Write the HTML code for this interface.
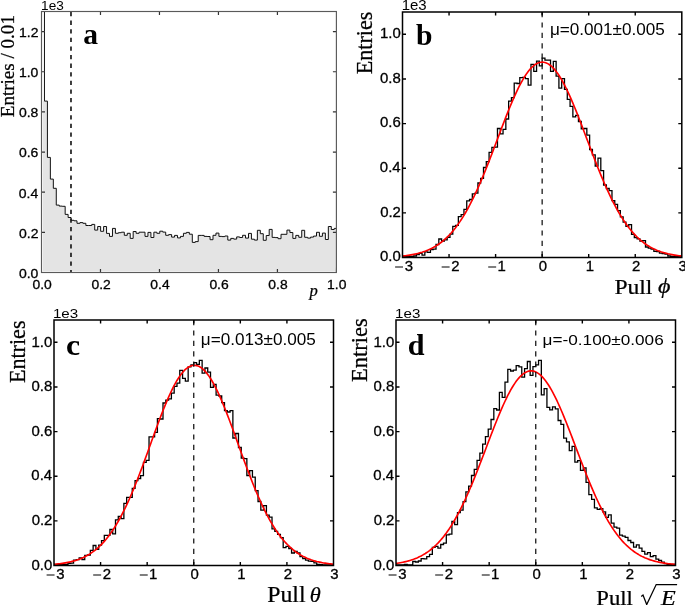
<!DOCTYPE html><html><head><meta charset="utf-8"><style>html,body{margin:0;padding:0;background:#fff;}svg{display:block;will-change:transform;}</style></head><body>
<svg width="685" height="605" viewBox="0 0 685 605">
<rect width="685" height="605" fill="#fff"/>
<clipPath id="cpa"><rect x="41.5" y="11.5" width="294.9" height="261"/></clipPath>
<clipPath id="cpb"><rect x="402.5" y="12" width="279.3" height="245.5"/></clipPath>
<clipPath id="cpc"><rect x="54" y="320" width="279.5" height="245.5"/></clipPath>
<clipPath id="cpd"><rect x="396" y="320" width="279.5" height="245.5"/></clipPath>
<g clip-path="url(#cpa)">
<path d="M42.9,271.2 L42.9,101.1 L44.46,101.1 L44.46,101.1 L47.41,101.1 L47.41,157.4 L50.37,157.4 L50.37,179.1 L53.33,179.1 L53.33,188.3 L56.29,188.3 L56.28,205.1 L59.24,205.1 L59.24,206.1 L62.2,206.1 L62.2,206.3 L65.16,206.3 L65.16,214.4 L68.11,214.4 L68.11,217.5 L71.07,217.5 L71.07,220.3 L74.03,220.3 L74.03,220.8 L76.98,220.8 L76.98,223.3 L79.94,223.3 L79.94,222.6 L82.9,222.6 L82.9,223.3 L85.85,223.3 L85.85,225.5 L88.81,225.5 L88.81,225.5 L91.77,225.5 L91.77,224.4 L94.73,224.4 L94.73,230.1 L97.68,230.1 L97.68,226.5 L100.64,226.5 L100.64,231.3 L103.6,231.3 L103.6,226.5 L106.55,226.5 L106.55,233.4 L109.51,233.4 L109.51,236.4 L112.47,236.4 L112.47,228.4 L115.42,228.4 L115.42,233.3 L118.38,233.3 L118.38,232.7 L121.34,232.7 L121.34,232.2 L124.3,232.2 L124.3,235.3 L127.25,235.3 L127.25,233.3 L130.21,233.3 L130.21,238.4 L133.17,238.4 L133.17,231.5 L136.12,231.5 L136.12,233.3 L139.08,233.3 L139.08,232.2 L142.04,232.2 L142.04,232.2 L145,232.2 L145,236.4 L147.95,236.4 L147.95,232.4 L150.91,232.4 L150.91,237.5 L153.87,237.5 L153.87,232.2 L156.82,232.2 L156.82,233.3 L159.78,233.3 L159.78,231.2 L162.74,231.2 L162.74,232.1 L165.69,232.1 L165.69,235.3 L168.65,235.3 L168.65,234.6 L171.61,234.6 L171.61,237.1 L174.56,237.1 L174.56,235.4 L177.52,235.4 L177.52,237.9 L180.48,237.9 L180.48,236.4 L183.44,236.4 L183.44,233.3 L186.39,233.3 L186.39,232.4 L189.35,232.4 L189.35,234.2 L192.31,234.2 L192.31,242.4 L195.26,242.4 L195.26,241.6 L198.22,241.6 L198.22,235.4 L201.18,235.4 L201.18,235.4 L204.13,235.4 L204.13,236.4 L207.09,236.4 L207.09,236.5 L210.05,236.5 L210.05,239.7 L213.01,239.7 L213.01,235.3 L215.96,235.3 L215.96,233.1 L218.92,233.1 L218.92,236.4 L221.88,236.4 L221.88,236.6 L224.83,236.6 L224.83,236 L227.79,236 L227.79,240.1 L230.75,240.1 L230.75,238.4 L233.7,238.4 L233.7,239.1 L236.66,239.1 L236.66,236.9 L239.62,236.9 L239.62,237.5 L242.58,237.5 L242.58,235.3 L245.53,235.3 L245.53,238.1 L248.49,238.1 L248.49,233.4 L251.45,233.4 L251.45,239.2 L254.4,239.2 L254.4,240.1 L257.36,240.1 L257.36,230.3 L260.32,230.3 L260.32,233.7 L263.27,233.7 L263.27,240.3 L266.23,240.3 L266.23,235.5 L269.19,235.5 L269.19,229.4 L272.15,229.4 L272.15,237.4 L275.1,237.4 L275.1,237.6 L278.06,237.6 L278.06,238.7 L281.02,238.7 L281.02,234.3 L283.97,234.3 L283.97,234.3 L286.93,234.3 L286.93,230.1 L289.89,230.1 L289.89,232.5 L292.84,232.5 L292.85,238.4 L295.8,238.4 L295.8,235.4 L298.76,235.4 L298.76,237.3 L301.72,237.3 L301.72,230.3 L304.67,230.3 L304.67,237.3 L307.63,237.3 L307.63,238.1 L310.59,238.1 L310.59,237.1 L313.54,237.1 L313.54,236.1 L316.5,236.1 L316.5,232.3 L319.46,232.3 L319.46,236.3 L322.41,236.3 L322.41,233.1 L325.37,233.1 L325.37,239.5 L328.33,239.5 L328.33,226.5 L331.29,226.5 L331.29,229.5 L334.24,229.5 L334.24,228.4 L337.2,228.4 L335.9,228.4 L335.9,271.2 Z" fill="#e4e4e4" stroke="none"/>
<path d="M41.5,272.5 L41.5,-60 L44.46,-60 L44.46,101.1 L47.41,101.1 L47.41,157.4 L50.37,157.4 L50.37,179.1 L53.33,179.1 L53.33,188.3 L56.29,188.3 L56.28,205.1 L59.24,205.1 L59.24,206.1 L62.2,206.1 L62.2,206.3 L65.16,206.3 L65.16,214.4 L68.11,214.4 L68.11,217.5 L71.07,217.5 L71.07,220.3 L74.03,220.3 L74.03,220.8 L76.98,220.8 L76.98,223.3 L79.94,223.3 L79.94,222.6 L82.9,222.6 L82.9,223.3 L85.85,223.3 L85.85,225.5 L88.81,225.5 L88.81,225.5 L91.77,225.5 L91.77,224.4 L94.73,224.4 L94.73,230.1 L97.68,230.1 L97.68,226.5 L100.64,226.5 L100.64,231.3 L103.6,231.3 L103.6,226.5 L106.55,226.5 L106.55,233.4 L109.51,233.4 L109.51,236.4 L112.47,236.4 L112.47,228.4 L115.42,228.4 L115.42,233.3 L118.38,233.3 L118.38,232.7 L121.34,232.7 L121.34,232.2 L124.3,232.2 L124.3,235.3 L127.25,235.3 L127.25,233.3 L130.21,233.3 L130.21,238.4 L133.17,238.4 L133.17,231.5 L136.12,231.5 L136.12,233.3 L139.08,233.3 L139.08,232.2 L142.04,232.2 L142.04,232.2 L145,232.2 L145,236.4 L147.95,236.4 L147.95,232.4 L150.91,232.4 L150.91,237.5 L153.87,237.5 L153.87,232.2 L156.82,232.2 L156.82,233.3 L159.78,233.3 L159.78,231.2 L162.74,231.2 L162.74,232.1 L165.69,232.1 L165.69,235.3 L168.65,235.3 L168.65,234.6 L171.61,234.6 L171.61,237.1 L174.56,237.1 L174.56,235.4 L177.52,235.4 L177.52,237.9 L180.48,237.9 L180.48,236.4 L183.44,236.4 L183.44,233.3 L186.39,233.3 L186.39,232.4 L189.35,232.4 L189.35,234.2 L192.31,234.2 L192.31,242.4 L195.26,242.4 L195.26,241.6 L198.22,241.6 L198.22,235.4 L201.18,235.4 L201.18,235.4 L204.13,235.4 L204.13,236.4 L207.09,236.4 L207.09,236.5 L210.05,236.5 L210.05,239.7 L213.01,239.7 L213.01,235.3 L215.96,235.3 L215.96,233.1 L218.92,233.1 L218.92,236.4 L221.88,236.4 L221.88,236.6 L224.83,236.6 L224.83,236 L227.79,236 L227.79,240.1 L230.75,240.1 L230.75,238.4 L233.7,238.4 L233.7,239.1 L236.66,239.1 L236.66,236.9 L239.62,236.9 L239.62,237.5 L242.58,237.5 L242.58,235.3 L245.53,235.3 L245.53,238.1 L248.49,238.1 L248.49,233.4 L251.45,233.4 L251.45,239.2 L254.4,239.2 L254.4,240.1 L257.36,240.1 L257.36,230.3 L260.32,230.3 L260.32,233.7 L263.27,233.7 L263.27,240.3 L266.23,240.3 L266.23,235.5 L269.19,235.5 L269.19,229.4 L272.15,229.4 L272.15,237.4 L275.1,237.4 L275.1,237.6 L278.06,237.6 L278.06,238.7 L281.02,238.7 L281.02,234.3 L283.97,234.3 L283.97,234.3 L286.93,234.3 L286.93,230.1 L289.89,230.1 L289.89,232.5 L292.84,232.5 L292.85,238.4 L295.8,238.4 L295.8,235.4 L298.76,235.4 L298.76,237.3 L301.72,237.3 L301.72,230.3 L304.67,230.3 L304.67,237.3 L307.63,237.3 L307.63,238.1 L310.59,238.1 L310.59,237.1 L313.54,237.1 L313.54,236.1 L316.5,236.1 L316.5,232.3 L319.46,232.3 L319.46,236.3 L322.41,236.3 L322.41,233.1 L325.37,233.1 L325.37,239.5 L328.33,239.5 L328.33,226.5 L331.29,226.5 L331.29,229.5 L334.24,229.5 L334.24,228.4 L337.2,228.4 L336.4,272.5" fill="none" stroke="#111" stroke-width="1.0"/>
</g>
<line x1="70.99" y1="12" x2="70.99" y2="272.5" stroke="#111" stroke-width="1.6" stroke-dasharray="4.3 4.3"/>
<g clip-path="url(#cpb)">
<path d="M402.5,257.5 L402.5,256.7 L405.29,256.7 L405.29,256.7 L408.09,256.7 L408.09,256.7 L410.88,256.7 L410.88,256.5 L413.67,256.5 L413.67,256 L416.47,256 L416.46,254.7 L419.26,254.7 L419.26,253.4 L422.05,253.4 L422.05,255.1 L424.84,255.1 L424.84,251.9 L427.64,251.9 L427.64,252.3 L430.43,252.3 L430.43,249.5 L433.22,249.5 L433.22,249.1 L436.02,249.1 L436.02,244.5 L438.81,244.5 L438.81,239 L441.6,239 L441.6,241 L444.39,241 L444.39,239.9 L447.19,239.9 L447.19,237.3 L449.98,237.3 L449.98,234.1 L452.77,234.1 L452.77,226.3 L455.57,226.3 L455.57,225.4 L458.36,225.4 L458.36,216.7 L461.15,216.7 L461.15,214.7 L463.95,214.7 L463.95,209.4 L466.74,209.4 L466.74,200.8 L469.53,200.8 L469.53,199.5 L472.32,199.5 L472.32,193.9 L475.12,193.9 L475.12,193.2 L477.91,193.2 L477.91,183 L480.7,183 L480.7,178.3 L483.5,178.3 L483.5,167.5 L486.29,167.5 L486.29,161.6 L489.08,161.6 L489.08,152.3 L491.88,152.3 L491.88,147.4 L494.67,147.4 L494.67,147.1 L497.46,147.1 L497.46,128.5 L500.25,128.5 L500.25,133.9 L503.05,133.9 L503.05,129.3 L505.84,129.3 L505.84,119 L508.63,119 L508.63,101.2 L511.43,101.2 L511.43,97.6 L514.22,97.6 L514.22,83.1 L517.01,83.1 L517.01,83.5 L519.81,83.5 L519.81,77.7 L522.6,77.7 L522.6,77.3 L525.39,77.3 L525.39,78.6 L528.18,78.6 L528.18,85.2 L530.98,85.2 L530.98,64.4 L533.77,64.4 L533.77,71.3 L536.56,71.3 L536.56,61.2 L539.36,61.2 L539.36,65.9 L542.15,65.9 L542.15,58.2 L544.94,58.2 L544.94,60.2 L547.74,60.2 L547.74,60.2 L550.53,60.2 L550.53,71.3 L553.32,71.3 L553.32,61.4 L556.12,61.4 L556.12,76.2 L558.91,76.2 L558.91,88.1 L561.7,88.1 L561.7,78.6 L564.49,78.6 L564.49,89.3 L567.29,89.3 L567.29,99.3 L570.08,99.3 L570.08,106.3 L572.87,106.3 L572.87,116.9 L575.67,116.9 L575.67,115.3 L578.46,115.3 L578.46,121.5 L581.25,121.5 L581.25,128.9 L584.04,128.9 L584.04,128.5 L586.84,128.5 L586.84,135.1 L589.63,135.1 L589.63,149.5 L592.42,149.5 L592.42,154.9 L595.22,154.9 L595.22,166 L598.01,166 L598.01,158.2 L600.8,158.2 L600.8,170.6 L603.6,170.6 L603.6,185 L606.39,185 L606.39,188.5 L609.18,188.5 L609.18,190.7 L611.98,190.7 L611.97,200.7 L614.77,200.7 L614.77,204.4 L617.56,204.4 L617.56,210.6 L620.35,210.6 L620.35,216.8 L623.15,216.8 L623.15,222.1 L625.94,222.1 L625.94,226.3 L628.73,226.3 L628.73,224.6 L631.53,224.6 L631.53,234.3 L634.32,234.3 L634.32,237.7 L637.11,237.7 L637.11,238.8 L639.9,238.8 L639.9,241 L642.7,241 L642.7,240.7 L645.49,240.7 L645.49,247 L648.28,247 L648.28,248.1 L651.08,248.1 L651.08,249.2 L653.87,249.2 L653.87,251.4 L656.66,251.4 L656.66,251.5 L659.46,251.5 L659.46,253.2 L662.25,253.2 L662.25,253.5 L665.04,253.5 L665.04,254.2 L667.83,254.2 L667.84,256 L670.63,256 L670.63,256.5 L673.42,256.5 L673.42,256.5 L676.21,256.5 L676.21,256.5 L679.01,256.5 L679.01,256.5 L681.8,256.5 L681.8,257.5" fill="none" stroke="#000" stroke-width="1.3"/>
<polyline points="402.5,256.02 403.9,255.87 405.29,255.71 406.69,255.53 408.09,255.34 409.48,255.12 410.88,254.9 412.28,254.65 413.67,254.38 415.07,254.08 416.46,253.77 417.86,253.43 419.26,253.06 420.65,252.66 422.05,252.24 423.45,251.78 424.84,251.29 426.24,250.76 427.64,250.19 429.03,249.59 430.43,248.94 431.83,248.25 433.22,247.51 434.62,246.72 436.02,245.89 437.41,245 438.81,244.05 440.21,243.05 441.6,241.99 443,240.87 444.39,239.68 445.79,238.43 447.19,237.11 448.58,235.72 449.98,234.26 451.38,232.73 452.77,231.11 454.17,229.43 455.57,227.66 456.96,225.81 458.36,223.88 459.76,221.87 461.15,219.77 462.55,217.59 463.95,215.32 465.34,212.97 466.74,210.54 468.14,208.02 469.53,205.41 470.93,202.73 472.32,199.95 473.72,197.1 475.12,194.17 476.51,191.16 477.91,188.08 479.31,184.92 480.7,181.69 482.1,178.4 483.5,175.05 484.89,171.63 486.29,168.17 487.69,164.65 489.08,161.09 490.48,157.49 491.88,153.86 493.27,150.2 494.67,146.52 496.07,142.83 497.46,139.12 498.86,135.42 500.25,131.73 501.65,128.05 503.05,124.39 504.44,120.76 505.84,117.17 507.24,113.63 508.63,110.14 510.03,106.71 511.43,103.36 512.82,100.08 514.22,96.89 515.62,93.8 517.01,90.81 518.41,87.93 519.81,85.17 521.2,82.54 522.6,80.04 524,77.68 525.39,75.46 526.79,73.4 528.18,71.5 529.58,69.76 530.98,68.19 532.37,66.79 533.77,65.57 535.17,64.53 536.56,63.67 537.96,63 539.36,62.52 540.75,62.23 542.15,62.13 543.55,62.22 544.94,62.5 546.34,62.96 547.74,63.62 549.13,64.47 550.53,65.49 551.93,66.7 553.32,68.09 554.72,69.65 556.12,71.38 557.51,73.27 558.91,75.32 560.3,77.53 561.7,79.88 563.1,82.37 564.49,84.99 565.89,87.75 567.29,90.62 568.68,93.6 570.08,96.69 571.48,99.87 572.87,103.14 574.27,106.49 575.67,109.91 577.06,113.39 578.46,116.93 579.86,120.52 581.25,124.15 582.65,127.8 584.04,131.48 585.44,135.17 586.84,138.88 588.23,142.58 589.63,146.27 591.03,149.96 592.42,153.62 593.82,157.25 595.22,160.85 596.61,164.42 598.01,167.94 599.41,171.41 600.8,174.82 602.2,178.18 603.6,181.48 604.99,184.71 606.39,187.87 607.79,190.96 609.18,193.97 610.58,196.91 611.97,199.77 613.37,202.54 614.77,205.24 616.16,207.85 617.56,210.37 618.96,212.81 620.35,215.17 621.75,217.44 623.15,219.63 624.54,221.73 625.94,223.75 627.34,225.68 628.73,227.54 630.13,229.31 631.53,231 632.92,232.62 634.32,234.16 635.72,235.63 637.11,237.02 638.51,238.35 639.9,239.6 641.3,240.79 642.7,241.92 644.09,242.98 645.49,243.99 646.89,244.94 648.28,245.83 649.68,246.67 651.08,247.46 652.47,248.2 653.87,248.89 655.27,249.54 656.66,250.15 658.06,250.72 659.46,251.25 660.85,251.75 662.25,252.21 663.65,252.64 665.04,253.03 666.44,253.4 667.84,253.75 669.23,254.06 670.63,254.36 672.02,254.63 673.42,254.88 674.82,255.11 676.21,255.32 677.61,255.52 679.01,255.7 680.4,255.86 681.8,256.02" fill="none" stroke="#f00" stroke-width="1.65"/>
</g>
<line x1="542.15" y1="12" x2="542.15" y2="257.5" stroke="#111" stroke-width="1.25" stroke-dasharray="5.2 5.2"/>
<g clip-path="url(#cpc)">
<path d="M54,565.5 L54,564.5 L56.8,564.5 L56.8,564.5 L59.59,564.5 L59.59,564.5 L62.39,564.5 L62.38,564.5 L65.18,564.5 L65.18,564.3 L67.98,564.3 L67.97,563.4 L70.77,563.4 L70.77,563.1 L73.56,563.1 L73.56,560.1 L76.36,560.1 L76.36,559.6 L79.16,559.6 L79.16,557.8 L81.95,557.8 L81.95,559.5 L84.75,559.5 L84.75,555.3 L87.54,555.3 L87.54,555 L90.33,555 L90.34,550.4 L93.13,550.4 L93.13,545.5 L95.92,545.5 L95.92,549.3 L98.72,549.3 L98.72,545.2 L101.52,545.2 L101.52,540.6 L104.31,540.6 L104.31,535.4 L107.11,535.4 L107.1,535.4 L109.9,535.4 L109.9,529.5 L112.7,529.5 L112.69,533.9 L115.49,533.9 L115.49,519.8 L118.28,519.8 L118.28,516.4 L121.08,516.4 L121.08,518.6 L123.88,518.6 L123.88,503.4 L126.67,503.4 L126.67,497.4 L129.47,497.4 L129.47,497.4 L132.26,497.4 L132.26,488.4 L135.05,488.4 L135.06,480.6 L137.85,480.6 L137.85,478.5 L140.64,478.5 L140.64,475.6 L143.44,475.6 L143.44,462.4 L146.23,462.4 L146.24,460.3 L149.03,460.3 L149.03,436.8 L151.82,436.8 L151.82,436.8 L154.62,436.8 L154.62,432.3 L157.41,432.3 L157.41,418.6 L160.21,418.6 L160.21,419 L163,419 L163,403 L165.8,403 L165.8,400.1 L168.59,400.1 L168.59,398.8 L171.39,398.8 L171.39,393.1 L174.18,393.1 L174.19,386.4 L176.98,386.4 L176.98,383.2 L179.77,383.2 L179.77,370.4 L182.57,370.4 L182.57,378.3 L185.36,378.3 L185.37,381.1 L188.16,381.1 L188.16,366.9 L190.95,366.9 L190.95,364.9 L193.75,364.9 L193.75,362.6 L196.54,362.6 L196.54,364.4 L199.34,364.4 L199.34,360.4 L202.13,360.4 L202.13,373.1 L204.93,373.1 L204.93,368 L207.72,368 L207.72,372.1 L210.52,372.1 L210.52,387.3 L213.31,387.3 L213.31,384.4 L216.11,384.4 L216.11,395.1 L218.9,395.1 L218.91,396 L221.7,396 L221.7,402.6 L224.49,402.6 L224.5,410.7 L227.29,410.7 L227.29,412 L230.08,412 L230.09,410.7 L232.88,410.7 L232.88,438 L235.67,438 L235.67,433.5 L238.47,433.5 L238.47,447.5 L241.26,447.5 L241.26,458.2 L244.06,458.2 L244.06,458.6 L246.85,458.6 L246.85,475.5 L249.65,475.5 L249.65,470.6 L252.44,470.6 L252.44,477.2 L255.24,477.2 L255.24,490.7 L258.04,490.7 L258.03,501.5 L260.83,501.5 L260.83,510.2 L263.62,510.2 L263.62,505.6 L266.42,505.6 L266.42,515.1 L269.21,515.1 L269.22,517.2 L272.01,517.2 L272.01,528.8 L274.81,528.8 L274.81,531.4 L277.6,531.4 L277.6,534.3 L280.4,534.3 L280.39,537.7 L283.19,537.7 L283.19,547.7 L285.99,547.7 L285.99,546.3 L288.78,546.3 L288.78,548.5 L291.57,548.5 L291.57,553 L294.37,553 L294.37,551.5 L297.17,551.5 L297.16,553 L299.96,553 L299.96,556.6 L302.75,556.6 L302.75,558.6 L305.55,558.6 L305.55,560.1 L308.34,560.1 L308.35,561.1 L311.14,561.1 L311.14,561.4 L313.94,561.4 L313.94,562.9 L316.73,562.9 L316.73,564.3 L319.53,564.3 L319.52,564.6 L322.32,564.6 L322.32,564.8 L325.12,564.8 L325.12,564.8 L327.91,564.8 L327.91,564.8 L330.7,564.8 L330.7,564.8 L333.5,564.8 L333.5,565.5" fill="none" stroke="#000" stroke-width="1.3"/>
<polyline points="54,564.32 55.4,564.2 56.8,564.06 58.19,563.91 59.59,563.74 60.99,563.56 62.39,563.37 63.78,563.15 65.18,562.92 66.58,562.67 67.97,562.39 69.37,562.09 70.77,561.77 72.17,561.42 73.56,561.04 74.96,560.63 76.36,560.2 77.76,559.72 79.16,559.21 80.55,558.67 81.95,558.08 83.35,557.45 84.75,556.77 86.14,556.05 87.54,555.28 88.94,554.46 90.34,553.59 91.73,552.65 93.13,551.66 94.53,550.61 95.92,549.5 97.32,548.31 98.72,547.06 100.12,545.74 101.52,544.35 102.91,542.88 104.31,541.33 105.71,539.71 107.1,538 108.5,536.21 109.9,534.33 111.3,532.37 112.69,530.32 114.09,528.19 115.49,525.96 116.89,523.64 118.28,521.23 119.68,518.73 121.08,516.14 122.48,513.46 123.88,510.69 125.27,507.83 126.67,504.88 128.07,501.85 129.47,498.73 130.86,495.53 132.26,492.26 133.66,488.9 135.06,485.48 136.45,481.99 137.85,478.43 139.25,474.82 140.64,471.15 142.04,467.43 143.44,463.67 144.84,459.88 146.24,456.05 147.63,452.2 149.03,448.34 150.43,444.46 151.82,440.59 153.22,436.72 154.62,432.87 156.02,429.04 157.42,425.25 158.81,421.49 160.21,417.79 161.61,414.14 163,410.57 164.4,407.07 165.8,403.65 167.2,400.33 168.59,397.12 169.99,394.01 171.39,391.03 172.79,388.18 174.19,385.46 175.58,382.88 176.98,380.46 178.38,378.2 179.78,376.1 181.17,374.18 182.57,372.43 183.97,370.86 185.36,369.48 186.76,368.29 188.16,367.3 189.56,366.5 190.95,365.91 192.35,365.52 193.75,365.33 195.15,365.34 196.55,365.56 197.94,365.98 199.34,366.6 200.74,367.42 202.14,368.44 203.53,369.65 204.93,371.06 206.33,372.65 207.72,374.42 209.12,376.37 210.52,378.49 211.92,380.78 213.31,383.22 214.71,385.81 216.11,388.55 217.51,391.42 218.91,394.42 220.3,397.54 221.7,400.77 223.1,404.1 224.5,407.53 225.89,411.04 227.29,414.63 228.69,418.28 230.09,421.99 231.48,425.75 232.88,429.55 234.28,433.38 235.68,437.24 237.07,441.11 238.47,444.98 239.87,448.85 241.26,452.72 242.66,456.56 244.06,460.39 245.46,464.18 246.85,467.93 248.25,471.64 249.65,475.3 251.05,478.91 252.44,482.46 253.84,485.94 255.24,489.35 256.64,492.7 258.03,495.96 259.43,499.15 260.83,502.26 262.23,505.28 263.62,508.21 265.02,511.06 266.42,513.82 267.82,516.49 269.22,519.07 270.61,521.56 272.01,523.95 273.41,526.26 274.81,528.48 276.2,530.6 277.6,532.64 279,534.59 280.39,536.45 281.79,538.23 283.19,539.93 284.59,541.55 285.99,543.08 287.38,544.54 288.78,545.92 290.18,547.24 291.57,548.48 292.97,549.65 294.37,550.76 295.77,551.8 297.16,552.78 298.56,553.71 299.96,554.57 301.36,555.39 302.75,556.15 304.15,556.87 305.55,557.53 306.95,558.16 308.35,558.74 309.74,559.28 311.14,559.79 312.54,560.26 313.94,560.69 315.33,561.09 316.73,561.47 318.13,561.81 319.53,562.13 320.92,562.43 322.32,562.7 323.72,562.95 325.12,563.18 326.51,563.39 327.91,563.59 329.31,563.77 330.71,563.93 332.1,564.08 333.5,564.22" fill="none" stroke="#f00" stroke-width="1.65"/>
</g>
<line x1="193.75" y1="320" x2="193.75" y2="565.5" stroke="#111" stroke-width="1.25" stroke-dasharray="5.2 5.2"/>
<g clip-path="url(#cpd)">
<path d="M396,565.5 L396,565 L398.8,565 L398.8,565 L401.59,565 L401.59,565 L404.38,565 L404.38,564.5 L407.18,564.5 L407.18,565 L409.98,565 L409.98,564.8 L412.77,564.8 L412.77,561.5 L415.56,561.5 L415.56,562 L418.36,562 L418.36,561 L421.16,561 L421.15,558.7 L423.95,558.7 L423.95,558.8 L426.75,558.8 L426.75,556.6 L429.54,556.6 L429.54,554.4 L432.34,554.4 L432.33,547.4 L435.13,547.4 L435.13,546.4 L437.93,546.4 L437.93,548.1 L440.72,548.1 L440.72,544.5 L443.52,544.5 L443.51,543.1 L446.31,543.1 L446.31,534.9 L449.11,534.9 L449.11,534.2 L451.9,534.2 L451.9,521.5 L454.69,521.5 L454.69,524.6 L457.49,524.6 L457.49,512.7 L460.29,512.7 L460.28,510.1 L463.08,510.1 L463.08,501.6 L465.88,501.6 L465.88,491.9 L468.67,491.9 L468.67,486.1 L471.47,486.1 L471.47,475.5 L474.26,475.5 L474.26,469.4 L477.06,469.4 L477.06,460.3 L479.85,460.3 L479.85,453.2 L482.65,453.2 L482.64,444.1 L485.44,444.1 L485.44,436.6 L488.24,436.6 L488.24,429.1 L491.03,429.1 L491.03,419.5 L493.82,419.5 L493.82,408.6 L496.62,408.6 L496.62,410 L499.42,410 L499.41,392.3 L502.21,392.3 L502.21,397.3 L505,397.3 L505,382.2 L507.8,382.2 L507.8,369.4 L510.6,369.4 L510.6,371 L513.39,371 L513.39,370.2 L516.18,370.2 L516.18,365.7 L518.98,365.7 L518.98,366.9 L521.77,366.9 L521.77,377.2 L524.57,377.2 L524.57,368.6 L527.36,368.6 L527.37,361.5 L530.16,361.5 L530.16,375.4 L532.95,375.4 L532.95,366.7 L535.75,366.7 L535.75,364.8 L538.54,364.8 L538.54,360.3 L541.34,360.3 L541.34,394.9 L544.13,394.9 L544.13,388.6 L546.93,388.6 L546.93,407.3 L549.73,407.3 L549.73,409.8 L552.52,409.8 L552.52,406.9 L555.31,406.9 L555.32,408.9 L558.11,408.9 L558.11,420.5 L560.9,420.5 L560.9,424.4 L563.7,424.4 L563.7,438.2 L566.5,438.2 L566.5,441.9 L569.29,441.9 L569.29,450.6 L572.08,450.6 L572.09,446.4 L574.88,446.4 L574.88,462.1 L577.67,462.1 L577.67,460.6 L580.47,460.6 L580.47,470.3 L583.26,470.3 L583.26,467.9 L586.06,467.9 L586.06,482.3 L588.85,482.3 L588.86,494.7 L591.65,494.7 L591.65,499.3 L594.44,499.3 L594.44,507.9 L597.24,507.9 L597.24,509.3 L600.03,509.3 L600.03,508.7 L602.83,508.7 L602.83,511.9 L605.62,511.9 L605.62,517.3 L608.42,517.3 L608.42,514.8 L611.21,514.8 L611.22,523.1 L614.01,523.1 L614.01,527.2 L616.8,527.2 L616.81,528.1 L619.6,528.1 L619.6,535.1 L622.39,535.1 L622.39,536.1 L625.19,536.1 L625.19,537.4 L627.99,537.4 L627.99,540.5 L630.78,540.5 L630.78,542.5 L633.57,542.5 L633.58,547.1 L636.37,547.1 L636.37,544.8 L639.16,544.8 L639.16,548.1 L641.96,548.1 L641.96,551.4 L644.75,551.4 L644.75,554.1 L647.55,554.1 L647.55,552.7 L650.34,552.7 L650.35,556.6 L653.14,556.6 L653.14,555.6 L655.93,555.6 L655.93,559.1 L658.73,559.1 L658.73,560.3 L661.52,560.3 L661.52,562.2 L664.32,562.2 L664.32,563.6 L667.11,563.6 L667.12,564.5 L669.91,564.5 L669.91,564.5 L672.7,564.5 L672.7,564.5 L675.5,564.5 L675.5,565.5" fill="none" stroke="#000" stroke-width="1.3"/>
<polyline points="396,563.43 397.4,563.23 398.8,563.01 400.19,562.77 401.59,562.51 402.99,562.23 404.38,561.93 405.78,561.6 407.18,561.24 408.58,560.86 409.97,560.45 411.37,560.01 412.77,559.54 414.17,559.03 415.56,558.48 416.96,557.9 418.36,557.28 419.76,556.61 421.16,555.9 422.55,555.14 423.95,554.33 425.35,553.47 426.75,552.56 428.14,551.6 429.54,550.57 430.94,549.48 432.34,548.34 433.73,547.12 435.13,545.85 436.53,544.5 437.93,543.08 439.32,541.59 440.72,540.03 442.12,538.39 443.51,536.67 444.91,534.87 446.31,533 447.71,531.04 449.11,529 450.5,526.87 451.9,524.66 453.3,522.37 454.69,519.99 456.09,517.53 457.49,514.99 458.89,512.36 460.28,509.65 461.68,506.85 463.08,503.98 464.48,501.03 465.88,498 467.27,494.9 468.67,491.73 470.07,488.5 471.47,485.2 472.86,481.83 474.26,478.42 475.66,474.95 477.06,471.43 478.45,467.87 479.85,464.28 481.25,460.66 482.64,457.01 484.04,453.35 485.44,449.67 486.84,445.99 488.24,442.31 489.63,438.64 491.03,434.99 492.43,431.37 493.82,427.78 495.22,424.23 496.62,420.73 498.02,417.28 499.42,413.91 500.81,410.6 502.21,407.38 503.61,404.25 505,401.22 506.4,398.29 507.8,395.47 509.2,392.78 510.6,390.21 511.99,387.78 513.39,385.49 514.79,383.35 516.18,381.36 517.58,379.53 518.98,377.87 520.38,376.37 521.77,375.05 523.17,373.9 524.57,372.94 525.97,372.15 527.37,371.56 528.76,371.15 530.16,370.93 531.56,370.9 532.95,371.05 534.35,371.4 535.75,371.93 537.15,372.65 538.55,373.56 539.94,374.64 541.34,375.91 542.74,377.35 544.13,378.96 545.53,380.73 546.93,382.67 548.33,384.76 549.73,387 551.12,389.39 552.52,391.91 553.92,394.56 555.32,397.34 556.71,400.23 558.11,403.23 559.51,406.33 560.9,409.52 562.3,412.8 563.7,416.15 565.1,419.57 566.5,423.06 567.89,426.59 569.29,430.17 570.69,433.78 572.09,437.42 573.48,441.09 574.88,444.76 576.28,448.44 577.67,452.12 579.07,455.79 580.47,459.44 581.87,463.08 583.26,466.68 584.66,470.25 586.06,473.78 587.46,477.27 588.86,480.7 590.25,484.08 591.65,487.4 593.05,490.66 594.44,493.86 595.84,496.98 597.24,500.03 598.64,503.01 600.03,505.9 601.43,508.72 602.83,511.46 604.23,514.12 605.62,516.69 607.02,519.18 608.42,521.59 609.82,523.91 611.22,526.14 612.61,528.3 614.01,530.37 615.41,532.35 616.81,534.26 618.2,536.08 619.6,537.82 621,539.49 622.39,541.08 623.79,542.59 625.19,544.03 626.59,545.4 627.99,546.71 629.38,547.94 630.78,549.11 632.18,550.21 633.58,551.26 634.97,552.25 636.37,553.18 637.77,554.05 639.16,554.88 640.56,555.65 641.96,556.38 643.36,557.06 644.75,557.7 646.15,558.29 647.55,558.85 648.95,559.37 650.35,559.86 651.74,560.31 653.14,560.73 654.54,561.12 655.93,561.48 657.33,561.82 658.73,562.13 660.13,562.42 661.53,562.68 662.92,562.93 664.32,563.16 665.72,563.36 667.12,563.56 668.51,563.73 669.91,563.9 671.31,564.04 672.71,564.18 674.1,564.3 675.5,564.42" fill="none" stroke="#f00" stroke-width="1.65"/>
</g>
<line x1="535.75" y1="320" x2="535.75" y2="565.5" stroke="#111" stroke-width="1.25" stroke-dasharray="5.2 5.2"/>
<path d="M100.48,272.5 v-3.5 M100.48,11.5 v3.5 M159.46,272.5 v-3.5 M159.46,11.5 v3.5 M218.44,272.5 v-3.5 M218.44,11.5 v3.5 M277.42,272.5 v-3.5 M277.42,11.5 v3.5 M41.5,232.35 h3.5 M336.4,232.35 h-3.5 M41.5,192.19 h3.5 M336.4,192.19 h-3.5 M41.5,152.04 h3.5 M336.4,152.04 h-3.5 M41.5,111.88 h3.5 M336.4,111.88 h-3.5 M41.5,71.73 h3.5 M336.4,71.73 h-3.5 M41.5,31.58 h3.5 M336.4,31.58 h-3.5 " stroke="#333" stroke-width="1.2" fill="none"/>
<rect x="41.5" y="11.5" width="294.9" height="261" fill="none" stroke="#5a5a5a" stroke-width="1.15"/>
<path d="M449.05,257.5 v-3.5 M449.05,12 v3.5 M495.6,257.5 v-3.5 M495.6,12 v3.5 M542.15,257.5 v-3.5 M542.15,12 v3.5 M588.7,257.5 v-3.5 M588.7,12 v3.5 M635.25,257.5 v-3.5 M635.25,12 v3.5 M402.5,212.86 h3.5 M681.8,212.86 h-3.5 M402.5,168.23 h3.5 M681.8,168.23 h-3.5 M402.5,123.59 h3.5 M681.8,123.59 h-3.5 M402.5,78.95 h3.5 M681.8,78.95 h-3.5 M402.5,34.32 h3.5 M681.8,34.32 h-3.5 " stroke="#000" stroke-width="1.4" fill="none"/>
<rect x="402.5" y="12" width="279.3" height="245.5" fill="none" stroke="#000" stroke-width="1.5"/>
<path d="M100.58,565.5 v-3.5 M100.58,320 v3.5 M147.17,565.5 v-3.5 M147.17,320 v3.5 M193.75,565.5 v-3.5 M193.75,320 v3.5 M240.33,565.5 v-3.5 M240.33,320 v3.5 M286.92,565.5 v-3.5 M286.92,320 v3.5 M54,520.86 h3.5 M333.5,520.86 h-3.5 M54,476.23 h3.5 M333.5,476.23 h-3.5 M54,431.59 h3.5 M333.5,431.59 h-3.5 M54,386.95 h3.5 M333.5,386.95 h-3.5 M54,342.32 h3.5 M333.5,342.32 h-3.5 " stroke="#000" stroke-width="1.4" fill="none"/>
<rect x="54" y="320" width="279.5" height="245.5" fill="none" stroke="#000" stroke-width="1.5"/>
<path d="M442.58,565.5 v-3.5 M442.58,320 v3.5 M489.17,565.5 v-3.5 M489.17,320 v3.5 M535.75,565.5 v-3.5 M535.75,320 v3.5 M582.33,565.5 v-3.5 M582.33,320 v3.5 M628.92,565.5 v-3.5 M628.92,320 v3.5 M396,520.86 h3.5 M675.5,520.86 h-3.5 M396,476.23 h3.5 M675.5,476.23 h-3.5 M396,431.59 h3.5 M675.5,431.59 h-3.5 M396,386.95 h3.5 M675.5,386.95 h-3.5 M396,342.32 h3.5 M675.5,342.32 h-3.5 " stroke="#000" stroke-width="1.4" fill="none"/>
<rect x="396" y="320" width="279.5" height="245.5" fill="none" stroke="#000" stroke-width="1.5"/>
<text font-family="Liberation Sans" font-size="100" stroke="#000" stroke-width="2.26" transform="translate(18.94,277.85) scale(0.1397,0.1257)">0.0</text>
<text font-family="Liberation Sans" font-size="100" stroke="#000" stroke-width="2.26" transform="translate(19.08,237.70) scale(0.1397,0.1257)">0.2</text>
<text font-family="Liberation Sans" font-size="100" stroke="#000" stroke-width="2.26" transform="translate(18.80,197.54) scale(0.1397,0.1257)">0.4</text>
<text font-family="Liberation Sans" font-size="100" stroke="#000" stroke-width="2.26" transform="translate(18.94,157.39) scale(0.1397,0.1257)">0.6</text>
<text font-family="Liberation Sans" font-size="100" stroke="#000" stroke-width="2.26" transform="translate(18.94,117.23) scale(0.1397,0.1257)">0.8</text>
<text font-family="Liberation Sans" font-size="100" stroke="#000" stroke-width="2.26" transform="translate(18.94,77.08) scale(0.1397,0.1257)">1.0</text>
<text font-family="Liberation Sans" font-size="100" stroke="#000" stroke-width="2.26" transform="translate(19.08,36.93) scale(0.1397,0.1257)">1.2</text>
<text font-family="Liberation Sans" font-size="100" stroke="#000" stroke-width="2.27" transform="translate(32.44,288.90) scale(0.1389,0.1257)">0.0</text>
<text font-family="Liberation Sans" font-size="100" stroke="#000" stroke-width="2.27" transform="translate(91.49,288.90) scale(0.1389,0.1257)">0.2</text>
<text font-family="Liberation Sans" font-size="100" stroke="#000" stroke-width="2.27" transform="translate(150.33,288.90) scale(0.1389,0.1257)">0.4</text>
<text font-family="Liberation Sans" font-size="100" stroke="#000" stroke-width="2.27" transform="translate(209.38,288.90) scale(0.1389,0.1257)">0.6</text>
<text font-family="Liberation Sans" font-size="100" stroke="#000" stroke-width="2.27" transform="translate(268.36,288.90) scale(0.1389,0.1257)">0.8</text>
<text font-family="Liberation Sans" font-size="100" stroke="#000" stroke-width="2.27" transform="translate(327.07,288.90) scale(0.1389,0.1257)">1.0</text>
<text font-family="Liberation Sans" font-size="100" transform="translate(41.11,9.90) scale(0.1364,0.1257)">1e3</text>
<text font-family="Liberation Sans" font-size="100" stroke="#000" stroke-width="2.06" transform="translate(380.00,261.40) scale(0.1496,0.1414)">0.0</text>
<text font-family="Liberation Sans" font-size="100" stroke="#000" stroke-width="2.06" transform="translate(380.15,216.76) scale(0.1496,0.1414)">0.2</text>
<text font-family="Liberation Sans" font-size="100" stroke="#000" stroke-width="2.06" transform="translate(379.85,172.13) scale(0.1496,0.1414)">0.4</text>
<text font-family="Liberation Sans" font-size="100" stroke="#000" stroke-width="2.06" transform="translate(380.00,127.49) scale(0.1496,0.1414)">0.6</text>
<text font-family="Liberation Sans" font-size="100" stroke="#000" stroke-width="2.06" transform="translate(380.00,82.85) scale(0.1496,0.1414)">0.8</text>
<text font-family="Liberation Sans" font-size="100" stroke="#000" stroke-width="2.06" transform="translate(380.00,38.22) scale(0.1496,0.1414)">1.0</text>
<text font-family="Liberation Sans" font-size="100" stroke="#000" stroke-width="2.06" transform="translate(404.69,271.10) scale(0.1496,0.1414)">3</text>
<text font-family="Liberation Sans" font-size="100" stroke="#000" stroke-width="2.06" transform="translate(451.16,271.10) scale(0.1496,0.1414)">2</text>
<text font-family="Liberation Sans" font-size="100" stroke="#000" stroke-width="2.06" transform="translate(497.49,271.10) scale(0.1496,0.1414)">1</text>
<text font-family="Liberation Sans" font-size="100" stroke="#000" stroke-width="2.06" transform="translate(538.86,271.10) scale(0.1496,0.1414)">0</text>
<text font-family="Liberation Sans" font-size="100" stroke="#000" stroke-width="2.06" transform="translate(585.69,271.10) scale(0.1496,0.1414)">1</text>
<text font-family="Liberation Sans" font-size="100" stroke="#000" stroke-width="2.06" transform="translate(631.96,271.10) scale(0.1496,0.1414)">2</text>
<text font-family="Liberation Sans" font-size="100" stroke="#000" stroke-width="2.06" transform="translate(678.59,271.10) scale(0.1496,0.1414)">3</text>
<text font-family="Liberation Sans" font-size="100" stroke="#000" stroke-width="2.06" transform="translate(31.50,569.75) scale(0.1496,0.1414)">0.0</text>
<text font-family="Liberation Sans" font-size="100" stroke="#000" stroke-width="2.06" transform="translate(31.65,525.11) scale(0.1496,0.1414)">0.2</text>
<text font-family="Liberation Sans" font-size="100" stroke="#000" stroke-width="2.06" transform="translate(31.35,480.48) scale(0.1496,0.1414)">0.4</text>
<text font-family="Liberation Sans" font-size="100" stroke="#000" stroke-width="2.06" transform="translate(31.50,435.84) scale(0.1496,0.1414)">0.6</text>
<text font-family="Liberation Sans" font-size="100" stroke="#000" stroke-width="2.06" transform="translate(31.50,391.20) scale(0.1496,0.1414)">0.8</text>
<text font-family="Liberation Sans" font-size="100" stroke="#000" stroke-width="2.06" transform="translate(31.50,346.57) scale(0.1496,0.1414)">1.0</text>
<text font-family="Liberation Sans" font-size="100" stroke="#000" stroke-width="2.06" transform="translate(56.19,579.10) scale(0.1496,0.1414)">3</text>
<text font-family="Liberation Sans" font-size="100" stroke="#000" stroke-width="2.06" transform="translate(102.69,579.10) scale(0.1496,0.1414)">2</text>
<text font-family="Liberation Sans" font-size="100" stroke="#000" stroke-width="2.06" transform="translate(149.05,579.10) scale(0.1496,0.1414)">1</text>
<text font-family="Liberation Sans" font-size="100" stroke="#000" stroke-width="2.06" transform="translate(190.46,579.10) scale(0.1496,0.1414)">0</text>
<text font-family="Liberation Sans" font-size="100" stroke="#000" stroke-width="2.06" transform="translate(237.32,579.10) scale(0.1496,0.1414)">1</text>
<text font-family="Liberation Sans" font-size="100" stroke="#000" stroke-width="2.06" transform="translate(283.63,579.10) scale(0.1496,0.1414)">2</text>
<text font-family="Liberation Sans" font-size="100" stroke="#000" stroke-width="2.06" transform="translate(330.29,579.10) scale(0.1496,0.1414)">3</text>
<text font-family="Liberation Sans" font-size="100" stroke="#000" stroke-width="2.06" transform="translate(373.50,569.75) scale(0.1496,0.1414)">0.0</text>
<text font-family="Liberation Sans" font-size="100" stroke="#000" stroke-width="2.06" transform="translate(373.65,525.11) scale(0.1496,0.1414)">0.2</text>
<text font-family="Liberation Sans" font-size="100" stroke="#000" stroke-width="2.06" transform="translate(373.35,480.48) scale(0.1496,0.1414)">0.4</text>
<text font-family="Liberation Sans" font-size="100" stroke="#000" stroke-width="2.06" transform="translate(373.50,435.84) scale(0.1496,0.1414)">0.6</text>
<text font-family="Liberation Sans" font-size="100" stroke="#000" stroke-width="2.06" transform="translate(373.50,391.20) scale(0.1496,0.1414)">0.8</text>
<text font-family="Liberation Sans" font-size="100" stroke="#000" stroke-width="2.06" transform="translate(373.50,346.57) scale(0.1496,0.1414)">1.0</text>
<text font-family="Liberation Sans" font-size="100" stroke="#000" stroke-width="2.06" transform="translate(398.19,579.10) scale(0.1496,0.1414)">3</text>
<text font-family="Liberation Sans" font-size="100" stroke="#000" stroke-width="2.06" transform="translate(444.69,579.10) scale(0.1496,0.1414)">2</text>
<text font-family="Liberation Sans" font-size="100" stroke="#000" stroke-width="2.06" transform="translate(491.05,579.10) scale(0.1496,0.1414)">1</text>
<text font-family="Liberation Sans" font-size="100" stroke="#000" stroke-width="2.06" transform="translate(532.46,579.10) scale(0.1496,0.1414)">0</text>
<text font-family="Liberation Sans" font-size="100" stroke="#000" stroke-width="2.06" transform="translate(579.32,579.10) scale(0.1496,0.1414)">1</text>
<text font-family="Liberation Sans" font-size="100" stroke="#000" stroke-width="2.06" transform="translate(625.63,579.10) scale(0.1496,0.1414)">2</text>
<text font-family="Liberation Sans" font-size="100" stroke="#000" stroke-width="2.06" transform="translate(672.29,579.10) scale(0.1496,0.1414)">3</text>
<path d="M395.10,266.95 H403.05 M441.65,266.95 H449.60 M488.20,266.95 H496.15 M46.60,574.95 H54.55 M93.18,574.95 H101.13 M139.77,574.95 H147.72 M388.60,574.95 H396.55 M435.18,574.95 H443.13 M481.77,574.95 H489.72 " stroke="#000" stroke-width="1.15" fill="none"/>
<text font-family="Liberation Sans" font-size="100" transform="translate(401.70,9.60) scale(0.1500,0.1429)">1e3</text>
<text font-family="Liberation Sans" font-size="100" transform="translate(52.89,318.10) scale(0.1513,0.1371)">1e3</text>
<text font-family="Liberation Sans" font-size="100" transform="translate(395.09,318.10) scale(0.1513,0.1371)">1e3</text>
<text font-family="Liberation Sans" font-size="100" transform="translate(549.90,34.60) scale(0.1714,0.1557)">μ=0.001±0.005</text>
<text font-family="Liberation Sans" font-size="100" transform="translate(200.80,344.90) scale(0.1714,0.1557)">μ=0.013±0.005</text>
<text font-family="Liberation Sans" font-size="100" transform="translate(542.60,344.90) scale(0.1719,0.1543)">μ=-0.100±0.006</text>
<text font-family="Liberation Serif" font-size="100" font-weight="bold" transform="translate(83.31,43.51) scale(0.2957,0.2896)">a</text>
<text font-family="Liberation Serif" font-size="100" font-weight="bold" transform="translate(415.90,44.51) scale(0.2961,0.2871)">b</text>
<text font-family="Liberation Serif" font-size="100" font-weight="bold" transform="translate(65.95,354.51) scale(0.3179,0.2938)">c</text>
<text font-family="Liberation Serif" font-size="100" font-weight="bold" transform="translate(407.69,354.51) scale(0.3020,0.2871)">d</text>
<text font-family="Liberation Serif" font-size="100" stroke="#000" stroke-width="1.31" transform="translate(13.60,117.27) rotate(-90) scale(0.1907,0.1909)">Entries / 0.01</text>
<text font-family="Liberation Serif" font-size="100" stroke="#000" stroke-width="1.13" transform="translate(372.00,74.16) rotate(-90) scale(0.2209,0.2231)">Entries</text>
<text font-family="Liberation Serif" font-size="100" stroke="#000" stroke-width="1.12" transform="translate(25.30,383.06) rotate(-90) scale(0.2209,0.2262)">Entries</text>
<text font-family="Liberation Serif" font-size="100" stroke="#000" stroke-width="1.09" transform="translate(367.10,381.97) rotate(-90) scale(0.2249,0.2354)">Entries</text>
<text font-family="Liberation Serif" font-size="100" font-style="italic" stroke="#000" stroke-width="1.53" transform="translate(309.50,296.43) scale(0.1660,0.1603)">p</text>
<text font-family="Liberation Serif" font-size="100" stroke="#000" stroke-width="1.11" transform="translate(614.39,293.50) scale(0.2359,0.2145)">Pull</text>
<text font-family="Liberation Serif" font-size="100" font-style="italic" stroke="#000" stroke-width="1.10" transform="translate(658.02,293.12) scale(0.2404,0.2132)">ϕ</text>
<text font-family="Liberation Serif" font-size="100" stroke="#000" stroke-width="1.08" transform="translate(267.19,602.10) scale(0.2378,0.2232)">Pull</text>
<text font-family="Liberation Serif" font-size="100" font-style="italic" stroke="#000" stroke-width="1.13" transform="translate(309.68,601.88) scale(0.2238,0.2169)">θ</text>
<text font-family="Liberation Serif" font-size="100" stroke="#000" stroke-width="1.13" transform="translate(596.32,604.70) scale(0.2269,0.2145)">Pull</text>
<text font-family="Liberation Serif" font-size="100" font-style="italic" stroke="#000" stroke-width="1.09" transform="translate(660.94,604.60) scale(0.2417,0.2169)">E</text>
<path d="M641.2,596.6 L643.0,595.1 L646.7,604.6 L656.2,584.6 H677.1" stroke="#000" stroke-width="1.25" fill="none" stroke-linejoin="miter"/>
</svg></body></html>
